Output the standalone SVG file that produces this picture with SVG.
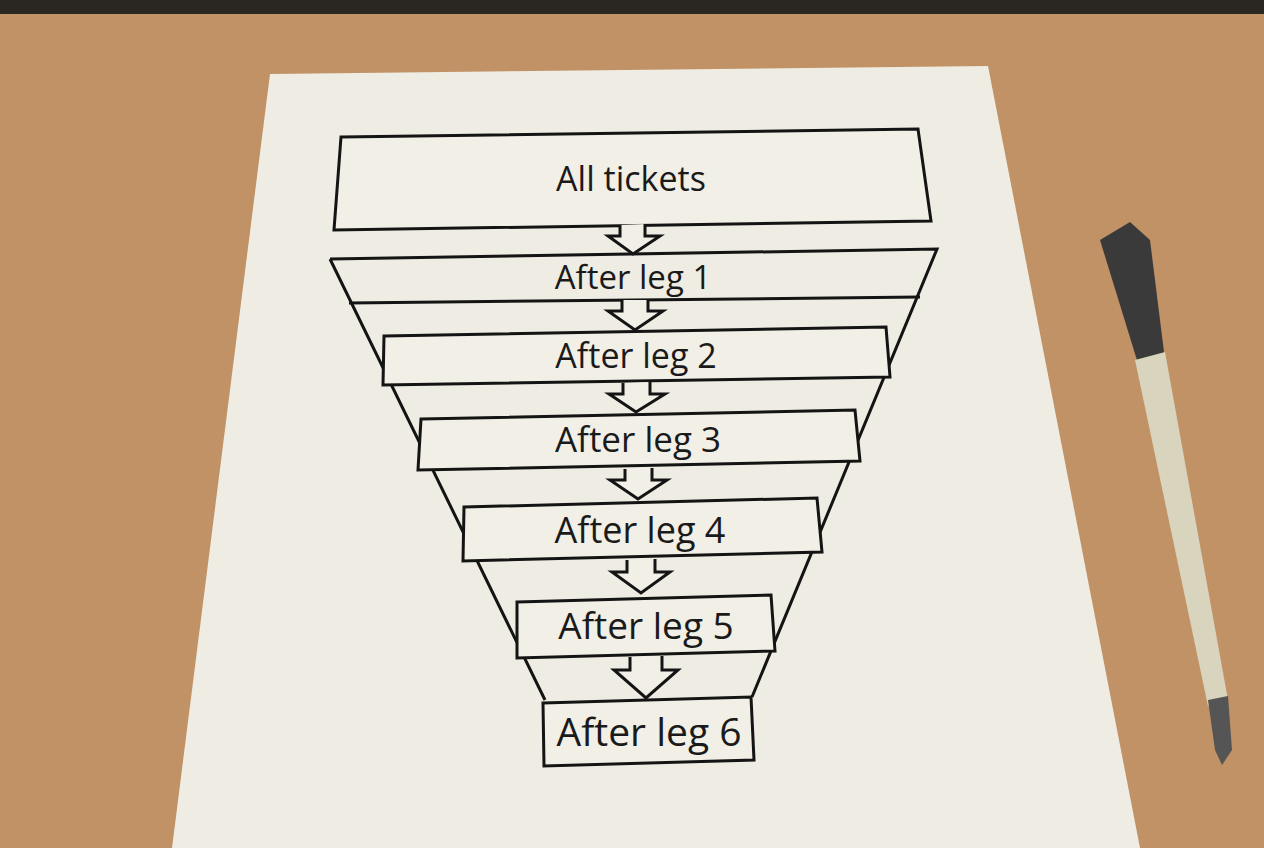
<svg xmlns="http://www.w3.org/2000/svg" width="1264" height="848" viewBox="0 0 1264 848">
<style>
.s{fill:none;stroke:#141414;stroke-width:3;stroke-linejoin:miter}
.b{fill:#f1efe6;stroke:#141414;stroke-width:3}
.t{font-family:"Open Sans","DejaVu Sans",sans-serif;fill:#1a1a1a;text-anchor:middle}
</style>
<rect width="1264" height="848" fill="#c19266"/>
<rect width="1264" height="14" fill="#2a2622"/>
<polygon points="270,74 988,66 1140,848 172,848" fill="#eeece3"/>
<g id="pen">
<path d="M1100,240 L1130,222 L1150,240 L1165,360 L1140,370 Z" fill="#3a3a3a"/>
<path d="M1135,360 L1165,352 L1228,700 L1208,706 Z" fill="#d9d4bd"/>
<path d="M1208,700 L1228,696 L1232,750 L1222,765 L1215,750 Z" fill="#555"/>
</g>
<g id="funnel">
<path class="s" d="M330,259 L937,249 L752,697 M330,259 L545,700"/>
<path class="s" d="M349,303 L920,297"/>
</g>
<g id="n0"><polygon class="b" points="341,137 918,129 931,221 334,230"/><text class="t" x="631" y="191" font-size="34">All tickets</text></g>
<g id="n1"><text class="t" x="633" y="289" font-size="33">After leg 1</text></g>
<g id="n2"><polygon class="b" points="384,336 886,327 890,377 383,385"/><text class="t" x="636" y="368" font-size="34">After leg 2</text></g>
<g id="n3"><polygon class="b" points="421,419 855,410 860,461 418,470"/><text class="t" x="638" y="452" font-size="35">After leg 3</text></g>
<g id="n4"><polygon class="b" points="464,507 817,498 822,552 463,561"/><text class="t" x="640" y="543" font-size="36">After leg 4</text></g>
<g id="n5"><polygon class="b" points="517,602 771,595 775,651 517,658"/><text class="t" x="646" y="639" font-size="37">After leg 5</text></g>
<g id="n6"><polygon class="b" points="543,703 751,697 754,760 544,766"/><text class="t" x="649" y="746" font-size="39">After leg 6</text></g>
<g id="connectors">
<path class="b" d="M620,225 L620,236 L608,236 L633,254 L660,236 L645,236 L645,224"/>
<path class="b" d="M622,300 L622,311 L608,311 L635,330 L663,311 L648,311 L648,300"/>
<path class="b" d="M623,383 L623,394 L609,394 L636,412 L665,394 L650,394 L650,382"/>
<path class="b" d="M625,469 L625,480 L610,480 L638,499 L667,480 L652,480 L652,468"/>
<path class="b" d="M627,560 L627,572 L612,572 L641,593 L670,572 L655,572 L655,559"/>
<path class="b" d="M630,657 L630,670 L614,670 L646,698 L678,670 L662,670 L662,656"/>
</g>
</svg>
